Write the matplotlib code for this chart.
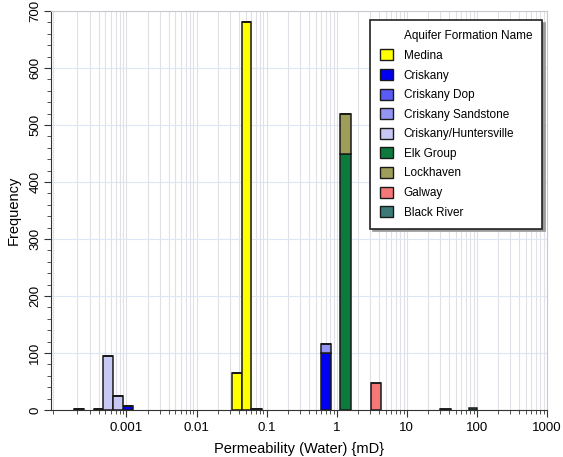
import matplotlib
matplotlib.use("Agg")
import matplotlib.pyplot as plt
from matplotlib.patches import Patch
from matplotlib.ticker import MultipleLocator, LogLocator, NullFormatter, FixedLocator, FixedFormatter

plt.rcParams['font.family'] = ['Liberation Sans', 'DejaVu Sans']

# histogram bins (permeability, mD)
bin_lo = [1.8e-4, 3.46e-4, 4.67e-4, 6.48e-4, 8.83e-4, 0.032, 0.0444, 0.0597, 0.589, 1.11, 3.05, 30, 77]
bin_hi = [2.5e-4, 4.67e-4, 6.48e-4, 8.83e-4, 1.25e-3, 0.0444, 0.0597, 0.0857, 0.826, 1.58, 4.27, 42.6, 100]

formations = ["Medina", "Criskany", "Criskany Dop", "Criskany Sandstone",
              "Criskany/Huntersville", "Elk Group", "Lockhaven", "Galway", "Black River"]
colors = ["#ffff00", "#0000f0", "#5a5af5", "#9494f2", "#c8c8f5",
          "#0b7a3c", "#9e9e5a", "#f57878", "#3c7a78"]

medina      = [0, 0, 0, 0, 0, 65, 680, 1, 0, 0, 0, 0, 0]
criskany    = [0, 0, 0, 0, 7, 0, 0, 0, 100, 0, 0, 0, 0]
criskany_dop = [0, 0, 0, 0, 0, 0, 0, 0, 0, 0, 0, 0, 0]
criskany_ss = [0, 0, 0, 0, 0, 0, 0, 0, 15, 0, 0, 0, 0]
huntersville = [1, 2, 95, 25, 0, 0, 0, 0, 0, 0, 0, 0, 0]
elk_group   = [0, 0, 0, 0, 0, 0, 0, 0, 0, 450, 0, 0, 0]
lockhaven   = [0, 0, 0, 0, 0, 0, 0, 0, 0, 70, 0, 0, 0]
galway      = [0, 0, 0, 0, 0, 0, 0, 0, 0, 0, 48, 1, 0]
black_river = [0, 0, 0, 0, 0, 0, 0, 0, 0, 0, 0, 0, 4]

series = [medina, criskany, criskany_dop, criskany_ss, huntersville,
          elk_group, lockhaven, galway, black_river]

fig = plt.figure(figsize=(5.63, 4.57), dpi=100)
ax = fig.add_axes([0.0906, 0.1028, 0.881, 0.873])

ax.set_xscale('log')
ax.set_xlim(8.4e-5, 1000)
ax.set_ylim(0, 700)

# grid
ax.xaxis.set_minor_locator(LogLocator(base=10, subs=range(2, 10), numticks=20))
ax.xaxis.set_minor_formatter(NullFormatter())
ax.grid(True, which='both', axis='x', color='#e0e0e6', linewidth=0.8)
ax.grid(True, which='major', axis='y', color='#dde6f4', linewidth=0.8)
ax.set_axisbelow(True)

widths = [h - l for l, h in zip(bin_lo, bin_hi)]
bottom = [0] * len(bin_lo)
for name, col, vals in zip(formations, colors, series):
    ax.bar(bin_lo, vals, width=widths, bottom=bottom, align='edge',
           color=col, edgecolor='#1a1a1a', linewidth=1.1)
    bottom = [b + v for b, v in zip(bottom, vals)]

xt = [0.001, 0.01, 0.1, 1, 10, 100, 1000]
ax.xaxis.set_major_locator(FixedLocator(xt))
ax.xaxis.set_major_formatter(FixedFormatter(["0.001", "0.01", "0.1", "1", "10", "100", "1000"]))
ax.yaxis.set_major_locator(MultipleLocator(100))
ax.yaxis.set_minor_locator(MultipleLocator(20))
for lbl in ax.get_yticklabels():
    lbl.set_rotation(90)
    lbl.set_va('center')
ax.tick_params(axis='both', which='major', labelsize=9.5, length=5, color='#333333')
ax.tick_params(axis='both', which='minor', length=3, color='#333333')
ax.tick_params(axis='y', pad=2)

for s in ['top', 'right']:
    ax.spines[s].set_color('#c8c8d0')
    ax.spines[s].set_linewidth(0.8)
for s in ['left', 'bottom']:
    ax.spines[s].set_color('#333333')

ax.set_xlabel("Permeability (Water) {mD}", fontsize=10.5, labelpad=6)
ax.set_ylabel("Frequency", fontsize=10.5, labelpad=6)

handles = [Patch(facecolor='none', edgecolor='none')]
handles += [Patch(facecolor=c, edgecolor='#1a1a1a', linewidth=1.0) for c in colors]
labels = ["Aquifer Formation Name"] + formations
leg = ax.legend(handles, labels, loc='upper left', bbox_to_anchor=(0.643, 0.978),
                fontsize=8.5, frameon=True, fancybox=False,
                shadow={'color': '#999999', 'alpha': 1.0},
                handlelength=1.1, handleheight=1.05, handletextpad=0.9,
                labelspacing=0.6, borderpad=0.85, borderaxespad=0)
leg.get_frame().set_edgecolor('#222222')
leg.get_frame().set_linewidth(1.2)

fig.savefig("out.png", dpi=100, facecolor='white')
